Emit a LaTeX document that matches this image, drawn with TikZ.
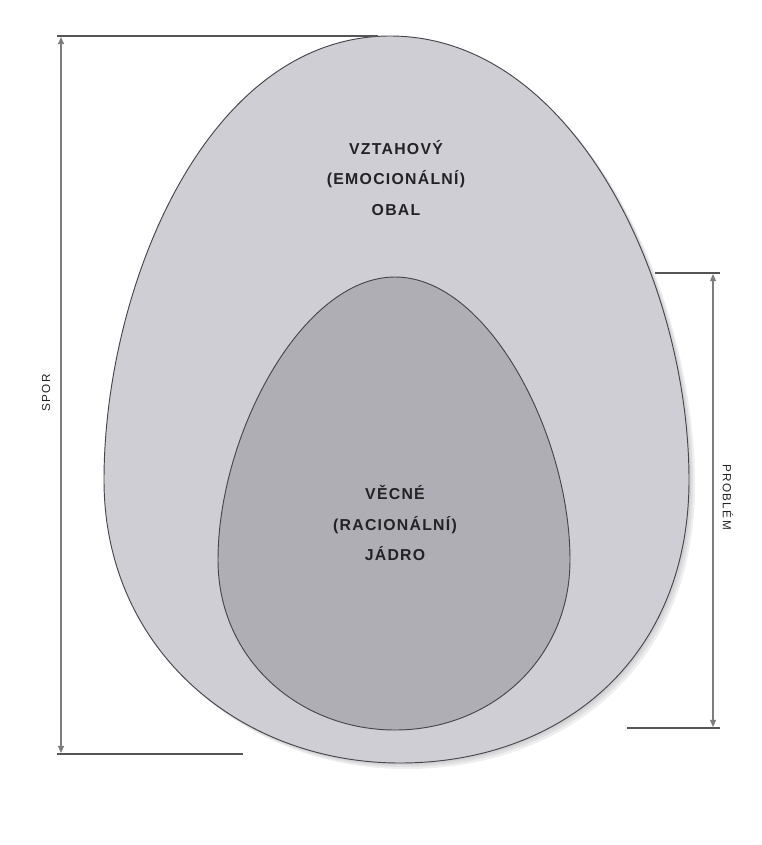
\documentclass[tikz,border=0pt]{standalone}
\usepackage{fontspec}
\usepackage{xcolor}
\usepackage{tikz}
\usetikzlibrary{arrows.meta}
\newfontfamily\eggfont[LetterSpace=8]{Liberation Sans}
\newfontfamily\dimfont[LetterSpace=12]{Liberation Sans}
\definecolor{eggout}{RGB}{206,206,212}
\definecolor{eggin}{RGB}{174,174,180}
\definecolor{eggline}{RGB}{70,70,76}
\definecolor{eggshadow}{RGB}{120,120,126}
\definecolor{dimgray}{RGB}{125,125,128}
\definecolor{extgray}{RGB}{85,85,88}
\definecolor{txtdark}{RGB}{35,35,38}
\newcommand{\outerEgg}{(390,36) .. controls (575,36) and (689,285) .. (689,480)
  .. controls (689,660) and (560,763) .. (400,763)
  .. controls (240,763) and (104,650) .. (104,480)
  .. controls (104,290) and (205,36) .. (390,36) -- cycle}
\newcommand{\innerEgg}{(395,277) .. controls (488,277) and (570,435) .. (570,560)
  .. controls (570,660) and (490,730) .. (395,730)
  .. controls (300,730) and (218,660) .. (218,560)
  .. controls (218,435) and (302,277) .. (395,277) -- cycle}
\tikzset{
  egglabel/.style={align=center, text=txtdark,
    font=\eggfont\fontsize{13.5}{25.8}\selectfont\bfseries},
  dimlabel/.style={text=txtdark, font=\dimfont\fontsize{10}{12}\selectfont},
  dimline/.style={{Triangle[length=6pt,width=5pt]}-{Triangle[length=6pt,width=5pt]},
    dimgray, line width=1pt},
  extline/.style={extgray, line width=1pt},
  egg/.style={draw=eggline, line width=0.8pt}
}

\begin{document}
\begin{tikzpicture}[x=0.03cm, y=-0.03cm]
  \useasboundingbox[fill=white] (0,0) rectangle (762,845);

  % Soft shadow of the outer egg
  \foreach \s in {2,4,6} {
    \fill[eggshadow, opacity=0.12, shift={(\s,\s)}] \outerEgg;
  }

  % Outer egg (relational shell)
  \filldraw[egg, fill=eggout] \outerEgg;
  \node[egglabel] (obal) at (396,178) {VZTAHOVÝ\\(EMOCIONÁLNÍ)\\OBAL};

  % Inner egg (rational core)
  \filldraw[egg, fill=eggin] \innerEgg;
  \node[egglabel] (jadro) at (395,523) {VĚCNÉ\\(RACIONÁLNÍ)\\JÁDRO};

  % Dimension: spor
  \coordinate (sporTop) at (61,37);
  \coordinate (sporBot) at (61,753);
  \draw[extline] (57,36) -- (378,36);
  \draw[extline] (57,754) -- (243,754);
  \draw[dimline] (sporTop) -- (sporBot);
  \node[dimlabel, rotate=90] (spor) at (46,393) {SPOR};

  % Dimension: problem
  \coordinate (probTop) at (713,274);
  \coordinate (probBot) at (713,727);
  \draw[extline] (655,273) -- (720,273);
  \draw[extline] (627,728) -- (720,728);
  \draw[dimline] (probTop) -- (probBot);
  \node[dimlabel, rotate=-90] (problem) at (728,497) {PROBLÉM};
\end{tikzpicture}
\end{document}
